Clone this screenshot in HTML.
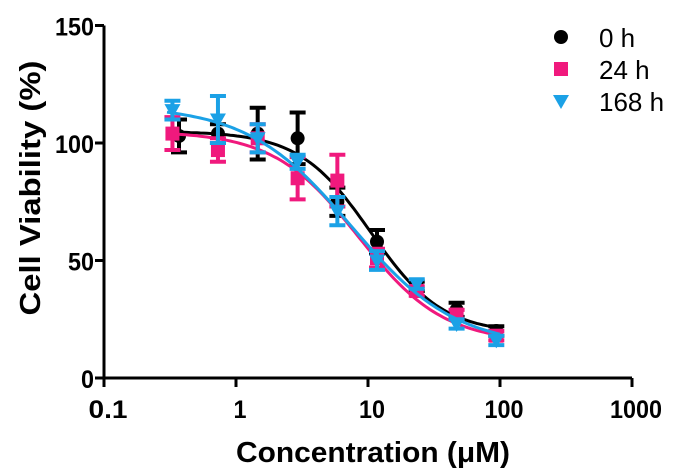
<!DOCTYPE html>
<html><head><meta charset="utf-8"><style>
body{margin:0;background:#fff;}
svg{display:block;font-family:"Liberation Sans",Arial,sans-serif;}
</style></head><body>
<svg id="chart" width="676" height="471" viewBox="0 0 676 471" xmlns="http://www.w3.org/2000/svg">
<g id="axes"></g>
<g id="series"></g>
<g id="legend"></g>
<text transform="translate(40,188) rotate(-90)" text-anchor="middle" font-size="29" font-weight="bold" textLength="255" lengthAdjust="spacingAndGlyphs">Cell Viability (%)</text>
<text x="373" y="462" text-anchor="middle" font-size="29" font-weight="bold" textLength="274" lengthAdjust="spacingAndGlyphs">Concentration (μM)</text>
</svg>
<script>
const xTicks = [0.1, 1, 10, 100, 1000];
const xTickLabels = ["0.1", "1", "10", "100", "1000"];
const yTicks = [0, 50, 100, 150];
const yTickLabels = ["0", "50", "100", "150"];
const seriesNames = ["0 h", "24 h", "168 h"];
const concBlack = [0.37, 0.73, 1.46, 2.93, 5.86, 11.7, 23.4, 46.9, 93.75];
const concPink = [0.33, 0.73, 1.46, 2.93, 5.86, 11.7, 23.4, 46.9, 93.75];
const concBlue = [0.33, 0.73, 1.46, 2.93, 5.86, 11.7, 23.4, 46.9, 93.75];
const valBlack = [103, 104, 104, 102, 75, 58, 39, 29, 20];
const errBlack = [7, 4, 11, 11, 6, 5, 2, 3, 2];
const valPink = [104, 97, 102, 85, 84, 51, 37, 27, 18];
const errPink = [7, 5, 6, 9, 11, 4, 2, 2, 2];
const valBlue = [114, 110, 102, 92, 71, 50, 40, 23, 16];
const errBlue = [4, 10, 6, 3, 6, 4, 2, 2, 2];
const fitBlack = [105, 19, 10.5, 1.6];
const fitPink = [105, 15, 8.5, 1.35];
const fitBlue = [116, 13, 7.5, 1.1];

const NS = "http://www.w3.org/2000/svg";
const X0 = 104, PX_DEC = 132, Y0 = 378, PX_PCT = 2.35;
function xs(c){ return X0 + PX_DEC * (Math.log10(c) + 1); }
function ys(v){ return Y0 - PX_PCT * v; }
function mk(tag, attrs, parent){ const e=document.createElementNS(NS,tag); for(const k in attrs) e.setAttribute(k,attrs[k]); parent.appendChild(e); return e; }

const axes = document.getElementById('axes');
const xl = mk('line',{x1:X0,y1:Y0,x2:xs(1000),y2:Y0,stroke:'#000','stroke-width':3},axes);


const yl = mk('line',{x1:X0,y1:Y0+1.5,x2:X0,y2:ys(150),stroke:'#000','stroke-width':3},axes);


xTicks.forEach((t,i)=>{
  const tk = mk('line',{x1:xs(t),y1:Y0,x2:xs(t),y2:Y0+9,stroke:'#000','stroke-width':3},axes);
  
  
  const tx = mk('text',{x:xs(t)+4,y:Y0+40,'text-anchor':'middle','font-size':25,'font-weight':'bold',textLength:xTickLabels[i].length*13,lengthAdjust:'spacingAndGlyphs'},axes);
  tx.textContent = xTickLabels[i];
  
  
});
yTicks.forEach((t,i)=>{
  const tk = mk('line',{x1:X0-9,y1:ys(t),x2:X0,y2:ys(t),stroke:'#000','stroke-width':3},axes);
  
  
  const tx = mk('text',{x:X0-10,y:ys(t)+10,'text-anchor':'end','font-size':25,'font-weight':'bold',textLength:yTickLabels[i].length*13,lengthAdjust:'spacingAndGlyphs'},axes);
  tx.textContent = yTickLabels[i];
  
  
});

const series = document.getElementById('series');
const defs = [
  {name:'0h',color:'#000000',conc:concBlack,val:valBlack,err:errBlack,fit:fitBlack,shape:'circle'},
  {name:'24h',color:'#f0197d',conc:concPink,val:valPink,err:errPink,fit:fitPink,shape:'square'},
  {name:'168h',color:'#1ba1e6',conc:concBlue,val:valBlue,err:errBlue,fit:fitBlue,shape:'tri'}
];
function marker(shape,cx,cy,color,parent){
  if(shape==='circle') return mk('circle',{cx:cx,cy:cy,r:7,fill:color},parent);
  if(shape==='square') return mk('rect',{x:cx-7,y:cy-7,width:14,height:14,fill:color},parent);
  return mk('polygon',{points:`${cx-8},${cy-6} ${cx+8},${cy-6} ${cx},${cy+8}`,fill:color},parent);
}
defs.forEach(s=>{
  const g = mk('g',{},series);
  
  
  const [top,bot,ic,h] = s.fit;
  let d='';
  for(let i=0;i<=100;i++){
    const lc = Math.log10(0.3) + (Math.log10(100)-Math.log10(0.3))*i/100;
    const c = Math.pow(10,lc);
    const v = bot + (top-bot)/(1+Math.pow(c/ic,h));
    d += (i?'L':'M') + xs(c).toFixed(1)+','+ys(v).toFixed(1);
  }
  const p = mk('path',{d:d,fill:'none',stroke:s.color,'stroke-width':3},g);
  
  
  s.conc.forEach((c,i)=>{
    const x=xs(c), y1=ys(s.val[i]+s.err[i]), y2=ys(s.val[i]-s.err[i]);
    const eb = mk('path',{d:`M${x},${y1}L${x},${y2}M${x-8},${y1}L${x+8},${y1}M${x-8},${y2}L${x+8},${y2}`,stroke:s.color,'stroke-width':4,fill:'none'},g);
    
    
    const m = marker(s.shape,x,ys(s.val[i]),s.color,g);
    
    
  });
});

const legend = document.getElementById('legend');
defs.forEach((s,i)=>{
  const y = 37 + i*32;
  const m = marker(s.shape,561,y,s.color,legend);
  
  
  const t = mk('text',{x:599,y:y+10,'font-size':26},legend);
  t.textContent = seriesNames[i];
  
  
});
</script>
</body></html>
